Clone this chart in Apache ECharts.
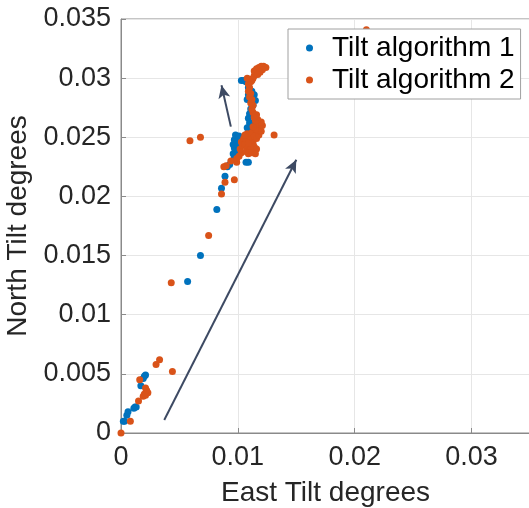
<!DOCTYPE html>
<html>
<head>
<meta charset="utf-8">
<script src="https://cdn.jsdelivr.net/npm/echarts@6/dist/echarts.min.js"></script>
<style>
  html, body { margin: 0; padding: 0; background: #fff; }
  #tilt-chart { width: 529px; height: 508px; }
</style>
</head>
<body>
<div id="tilt-chart"></div>
<script>
// [east, north] pairs
const alg1Points = [
  [0.0002, 0.0010], [0.0003, 0.0010], [0.0005, 0.0015], [0.0006, 0.0018], [0.0011, 0.0021],
  [0.0012, 0.0022], [0.0013, 0.0022], [0.0017, 0.0040], [0.0019, 0.0046], [0.0020, 0.0048],
  [0.0021, 0.0049], [0.0057, 0.0128], [0.0068, 0.0150], [0.0082, 0.0189], [0.0086, 0.0207],
  [0.0089, 0.0217], [0.0091, 0.0225], [0.0093, 0.0227], [0.0097, 0.0233], [0.0096, 0.0236],
  [0.0098, 0.0238], [0.0097, 0.0241], [0.0096, 0.0244], [0.0098, 0.0246], [0.0097, 0.0248],
  [0.0099, 0.0250], [0.0098, 0.0252], [0.0100, 0.0247], [0.0100, 0.0243], [0.0101, 0.0239],
  [0.0099, 0.0236], [0.0101, 0.0251], [0.0107, 0.0229], [0.0109, 0.0229], [0.0103, 0.0298],
  [0.0105, 0.0298], [0.0107, 0.0297], [0.0109, 0.0292], [0.0110, 0.0289], [0.0109, 0.0286],
  [0.0111, 0.0284], [0.0108, 0.0282], [0.0112, 0.0280], [0.0113, 0.0277], [0.0111, 0.0274],
  [0.0110, 0.0270], [0.0109, 0.0266], [0.0110, 0.0262], [0.0108, 0.0258], [0.0111, 0.0256],
  [0.0113, 0.0259], [0.0114, 0.0263], [0.0112, 0.0289], [0.0114, 0.0286], [0.0115, 0.0281]
];

const alg2Points = [
  [0.0000, 0.0000], [0.0008, 0.0010], [0.0015, 0.0027], [0.0016, 0.0045], [0.0019, 0.0031],
  [0.0020, 0.0033], [0.0021, 0.0038], [0.0022, 0.0036], [0.0023, 0.0034], [0.0021, 0.0032],
  [0.0030, 0.0058], [0.0033, 0.0062], [0.0044, 0.0052], [0.0043, 0.0127], [0.0075, 0.0167],
  [0.0086, 0.0202], [0.0089, 0.0212], [0.0097, 0.0214], [0.0088, 0.0225], [0.0090, 0.0226],
  [0.0094, 0.0230], [0.0099, 0.0229], [0.0099, 0.0232], [0.0059, 0.0247], [0.0068, 0.0250],
  [0.0131, 0.0252], [0.0210, 0.0341], [0.0101, 0.0234], [0.0103, 0.0237], [0.0102, 0.0240],
  [0.0104, 0.0243], [0.0103, 0.0246], [0.0105, 0.0249], [0.0107, 0.0247], [0.0106, 0.0244],
  [0.0108, 0.0241], [0.0107, 0.0238], [0.0109, 0.0236], [0.0110, 0.0239], [0.0111, 0.0242],
  [0.0113, 0.0245], [0.0112, 0.0248], [0.0110, 0.0251], [0.0108, 0.0253], [0.0106, 0.0252],
  [0.0112, 0.0254], [0.0114, 0.0251], [0.0116, 0.0249], [0.0118, 0.0252], [0.0120, 0.0255],
  [0.0119, 0.0258], [0.0117, 0.0256], [0.0115, 0.0257], [0.0113, 0.0259], [0.0116, 0.0261],
  [0.0118, 0.0262], [0.0121, 0.0260], [0.0120, 0.0263], [0.0117, 0.0265], [0.0115, 0.0264],
  [0.0114, 0.0267], [0.0116, 0.0269], [0.0114, 0.0242], [0.0116, 0.0240], [0.0112, 0.0237],
  [0.0115, 0.0236], [0.0109, 0.0245], [0.0113, 0.0271], [0.0112, 0.0274], [0.0113, 0.0277],
  [0.0111, 0.0279], [0.0112, 0.0282], [0.0110, 0.0284], [0.0111, 0.0287], [0.0109, 0.0289],
  [0.0110, 0.0292], [0.0109, 0.0295], [0.0111, 0.0297], [0.0110, 0.0299], [0.0108, 0.0300],
  [0.0112, 0.0298], [0.0113, 0.0300], [0.0114, 0.0302], [0.0115, 0.0304], [0.0114, 0.0306],
  [0.0116, 0.0308], [0.0118, 0.0309], [0.0120, 0.0310], [0.0122, 0.0310], [0.0124, 0.0309],
  [0.0121, 0.0307], [0.0119, 0.0305], [0.0117, 0.0303]
];

// annotation arrows, [start, end] in data units
const bigArrow = [[0.0037, 0.0011], [0.0150, 0.0231]];
const smallArrow = [[0.0094, 0.0259], [0.0086, 0.0294]];

const seriesNames = ['Tilt algorithm 1', 'Tilt algorithm 2'];
const seriesColors = ['#0072BD', '#D95319'];

const FONT = '"Liberation Sans", Arial, sans-serif';
const textColor = '#262626';

let chart = echarts.init(document.getElementById('tilt-chart'));

function arrowLine(pair) {
  return [{ coord: pair[0] }, { coord: pair[1] }];
}

let option = {
  animation: false,
  textStyle: { fontFamily: FONT },
  grid: {
    left: 121,
    top: 19,
    width: 409,
    bottom: 75,
    outerBoundsMode: 'none', // the plot box runs off the right edge, keep it as is
    show: true,
    borderColor: '#8a8a8a',
    borderWidth: 1,
    backgroundColor: '#fff',
  },
  legend: {
    data: seriesNames,
    orient: 'vertical',
    left: 288,
    top: 29,
    backgroundColor: '#fff',
    borderColor: '#a0a0a0',
    borderWidth: 1,
    borderRadius: 0,
    padding: [5, 6, 5, 18],
    itemGap: 4,
    icon: 'circle',
    itemWidth: 7,
    itemHeight: 7,
    textStyle: {
      fontFamily: FONT,
      fontSize: 28,
      color: '#000',
      padding: [0, 0, 0, 14],
    },
  },
  xAxis: {
    type: 'value',
    min: 0,
    max: 0.035,
    interval: 0.01,
    name: 'East Tilt degrees',
    nameLocation: 'middle',
    nameGap: 46,
    nameTextStyle: { fontFamily: FONT, fontSize: 28, color: textColor },
    axisLine: { show: true, lineStyle: { color: '#8a8a8a' } },
    axisTick: { show: true, inside: true, length: 5, lineStyle: { color: '#8a8a8a' } },
    axisLabel: { fontFamily: FONT, fontSize: 27, color: textColor, margin: 11, showMaxLabel: false },
    splitLine: { show: true, lineStyle: { color: '#e6e6e6' } },
  },
  yAxis: {
    type: 'value',
    min: 0,
    max: 0.035,
    interval: 0.005,
    name: 'North Tilt degrees',
    nameLocation: 'middle',
    nameGap: 81,
    nameTextStyle: { fontFamily: FONT, fontSize: 28, color: textColor },
    axisLine: { show: true, lineStyle: { color: '#8a8a8a' } },
    axisTick: { show: true, inside: true, length: 5, lineStyle: { color: '#8a8a8a' } },
    axisLabel: { fontFamily: FONT, fontSize: 27, color: textColor, margin: 10 },
    splitLine: { show: true, lineStyle: { color: '#e6e6e6' } },
  },
  series: [
    {
      name: seriesNames[0],
      type: 'scatter',
      symbolSize: 7,
      itemStyle: { color: seriesColors[0], opacity: 1 },
      data: alg1Points,
      z: 2,
    },
    {
      name: seriesNames[1],
      type: 'scatter',
      symbolSize: 7,
      itemStyle: { color: seriesColors[1], opacity: 1 },
      data: alg2Points,
      z: 3,
      markLine: {
        silent: true,
        symbol: ['none', 'arrow'],
        symbolSize: [9, 13],
        label: { show: false },
        lineStyle: { color: '#3d4a63', width: 2, type: 'solid' },
        data: [arrowLine(bigArrow), arrowLine(smallArrow)],
      },
    },
  ],
};

chart.setOption(option);
</script>
</body>
</html>
